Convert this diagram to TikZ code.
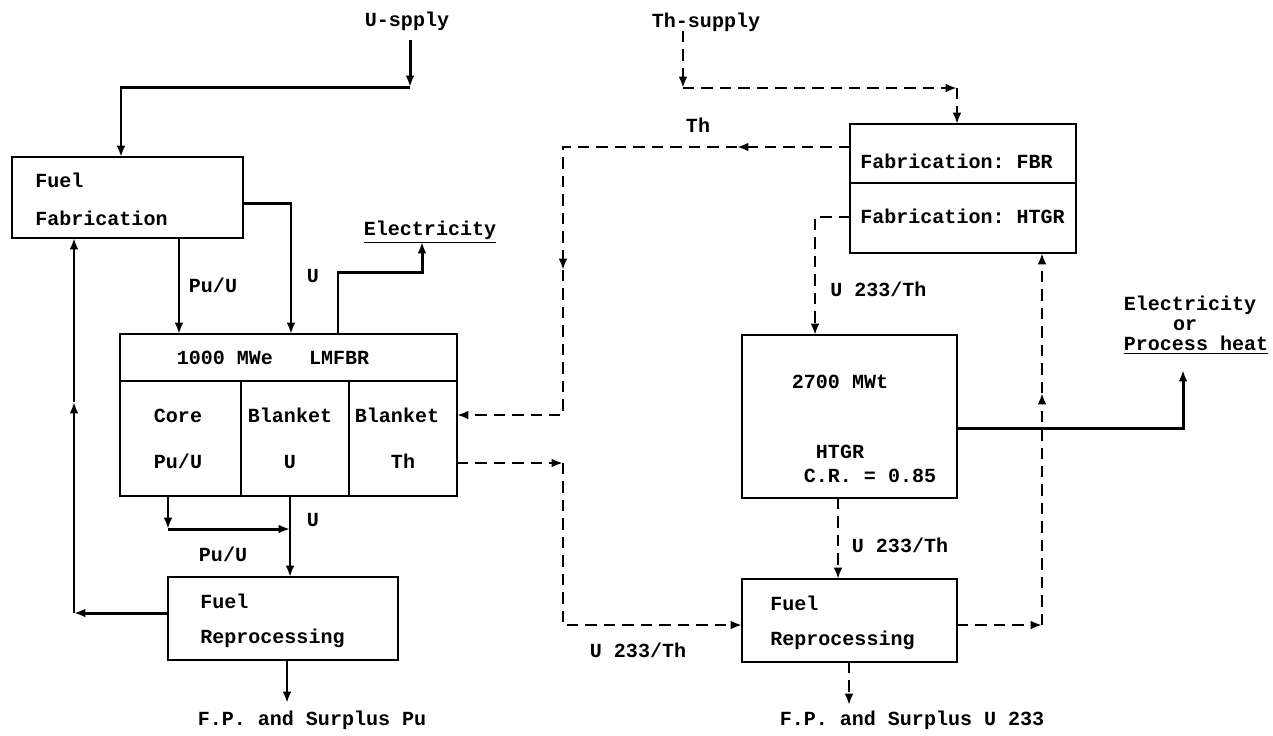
\documentclass[tikz,border=0pt]{standalone}
\usepackage{fontspec}
\setmainfont{Liberation Mono}
\frenchspacing
\usetikzlibrary{arrows.meta}
\begin{document}
\begin{tikzpicture}[x=0.02cm,y=-0.02cm]
		\tikzstyle{every node}=[font=\fontsize{11.4pt}{13pt}\selectfont\bfseries]
		\tikzstyle{lbl}=[inner sep=0pt, text height=8pt, text depth=2pt]
		\tikzstyle{box}=[draw, line width=1.5pt, inner sep=0pt, outer sep=0pt]
		\tikzstyle{flow}=[line width=1.7pt]
		\tikzstyle{dflow}=[line width=1.6pt, dash pattern=on 6.5pt off 4pt]
		\tikzstyle{arr}=[-{Latex[length=6.5pt,width=5pt]}]
		
		\useasboundingbox (0,0) rectangle (1273,735);
		
		% boxes
		\node[box, minimum width=4.62cm, minimum height=1.62cm] (fab) at (127.5,197.5) {};
		\node[box, minimum width=6.74cm, minimum height=3.24cm] (lm) at (288.5,415) {};
		\node[box, minimum width=4.6cm, minimum height=1.66cm] (rep1) at (283,618.5) {};
		\node[box, minimum width=4.52cm, minimum height=2.58cm] (fbr) at (963,188.5) {};
		\node[box, minimum width=4.3cm, minimum height=3.26cm] (htgr) at (849.5,416.5) {};
		\node[box, minimum width=4.3cm, minimum height=1.66cm] (rep2) at (849.5,620.5) {};
		
		\draw[line width=1.5pt] (lm.west |- 0,381) -- (lm.east |- 0,381);
		\draw[line width=1.5pt] (241,381) -- (lm.south -| 241,0);
		\draw[line width=1.5pt] (349,381) -- (lm.south -| 349,0);
		\draw[line width=1.5pt] (fbr.west |- 0,183) -- (fbr.east |- 0,183);
		
		% box texts
		\node[lbl, anchor=west] (fabA) at (35,182) {Fuel};
		\node[lbl, anchor=west] (fabB) at (35,220) {Fabrication};
		\node[lbl] (lmtitle) at (273,359) {1000 MWe~~~LMFBR};
		\node[lbl] (coreA) at (178,417) {Core};
		\node[lbl] (coreB) at (178,463) {Pu/U};
		\node[lbl] (blkA) at (290,417) {Blanket};
		\node[lbl] (blkB) at (290,463) {U};
		\node[lbl] (blkC) at (397,417) {Blanket};
		\node[lbl] (blkD) at (403,463) {Th};
		\node[lbl, anchor=west] (repA) at (200,603) {Fuel};
		\node[lbl, anchor=west] (repB) at (200,638) {Reprocessing};
		\node[lbl, anchor=west] (fbrA) at (860,163) {Fabrication: FBR};
		\node[lbl, anchor=west] (fbrB) at (860,218) {Fabrication: HTGR};
		\node[lbl] (htgrA) at (840,383) {2700 MWt};
		\node[lbl] (htgrB) at (840,453) {HTGR};
		\node[lbl] (htgrC) at (870,477) {C.R. = 0.85};
		\node[lbl, anchor=west] (repC) at (770,605) {Fuel};
		\node[lbl, anchor=west] (repD) at (770,640) {Reprocessing};
		
		% free labels
		\node[lbl] (usup) at (407,21) {U-spply};
		\node[lbl] (thsup) at (706,22) {Th-supply};
		\node[lbl] (thlab) at (698,127) {Th};
		\node[lbl] (pulabA) at (213,287) {Pu/U};
		\node[lbl] (ulabA) at (313,277) {U};
		\node[lbl] (elecA) at (430,230) {\underline{Electricity}};
		\node[lbl] (ulabB) at (313,521) {U};
		\node[lbl] (pulabB) at (223,556) {Pu/U};
		\node[lbl] (fpA) at (312,720) {F.P. and Surplus Pu};
		\node[lbl] (fpB) at (912,720) {F.P. and Surplus U 233};
		\node[lbl, anchor=west] (uthA) at (830,291) {U 233/Th};
		\node[lbl] (uthB) at (900,547) {U 233/Th};
		\node[lbl] (uthC) at (638,652) {U 233/Th};
		\node[lbl] (elecB) at (1190,305) {Electricity};
		\node[lbl] (ortxt) at (1185,325) {or};
		\node[lbl] (pheat) at (1196,345) {\underline{Process heat}};
		
		% corner points
		\coordinate (uTop) at (410,40);
		\coordinate (uBend) at (410,87);
		\coordinate (elTip) at (422,242);
		\coordinate (coreBend) at (168,529);
		\coordinate (coreJoin) at (290,529);
		\coordinate (retBend) at (74,613);
		\coordinate (retMid) at (74,402);
		\coordinate (fpTipA) at (287,703);
		\coordinate (heatTip) at (1183,370);
		\coordinate (thTop) at (683,31);
		\coordinate (thBendA) at (683,88);
		\coordinate (thBendB) at (957,88);
		\coordinate (thMid) at (737,147);
		\coordinate (thDown) at (563,270);
		\coordinate (u233Bend) at (563,463);
		\coordinate (recBend) at (1042,625);
		\coordinate (recMid) at (1042,393);
		\coordinate (fpTipB) at (849,705);
		
		% solid flows
		\draw[flow, arr] (uTop) -- (uBend);
		\draw[flow, arr] (uBend) -| (fab.north -| 121,0);
		\draw[flow, arr] (fab.east |- 0,203) -| (lm.north -| 291,0);
		\draw[flow, arr] (fab.south -| 179,0) -- (lm.north -| 179,0);
		\draw[flow, arr] (lm.north -| 338,0) |- (422,272) -- (elTip);
		\draw[flow, arr] (lm.south -| coreBend) -- (coreBend);
		\draw[flow, arr] (coreBend) -- (coreJoin);
		\draw[flow, arr] (lm.south -| coreJoin) -- (rep1.north -| coreJoin);
		\draw[flow, arr] (rep1.west |- retBend) -- (retBend);
		\draw[flow, arr] (retBend) -- (retMid);
		\draw[flow, arr] (retMid) -- (fab.south -| retMid);
		\draw[flow, arr] (rep1.south -| fpTipA) -- (fpTipA);
		\draw[flow, arr] (htgr.east |- 0,428) -| (heatTip);
		
		% dashed flows
		\draw[dflow, arr] (thTop) -- (thBendA);
		\draw[dflow, arr] (thBendA) -- (thBendB);
		\draw[dflow, arr] (thBendB) -- (fbr.north -| thBendB);
		\draw[dflow, arr] (fbr.west |- thMid) -- (thMid);
		\draw[dflow, arr] (thMid) -| (thDown);
		\draw[dflow, arr] (thDown) |- (lm.east |- 0,415);
		\draw[dflow, arr] (lm.east |- u233Bend) -- (u233Bend);
		\draw[dflow, arr] (u233Bend) |- (rep2.west |- recBend);
		\draw[dflow, arr] (fbr.west |- 0,217) -| (htgr.north -| 815,0);
		\draw[dflow, arr] (htgr.south -| 838,0) -- (rep2.north -| 838,0);
		\draw[dflow, arr] (rep2.east |- recBend) -- (recBend);
		\draw[dflow, arr] (recBend) -- (recMid);
		\draw[dflow, arr] (recMid) -- (fbr.south -| recMid);
		\draw[dflow, arr] (rep2.south -| fpTipB) -- (fpTipB);
		
	\end{tikzpicture}
\end{document}
